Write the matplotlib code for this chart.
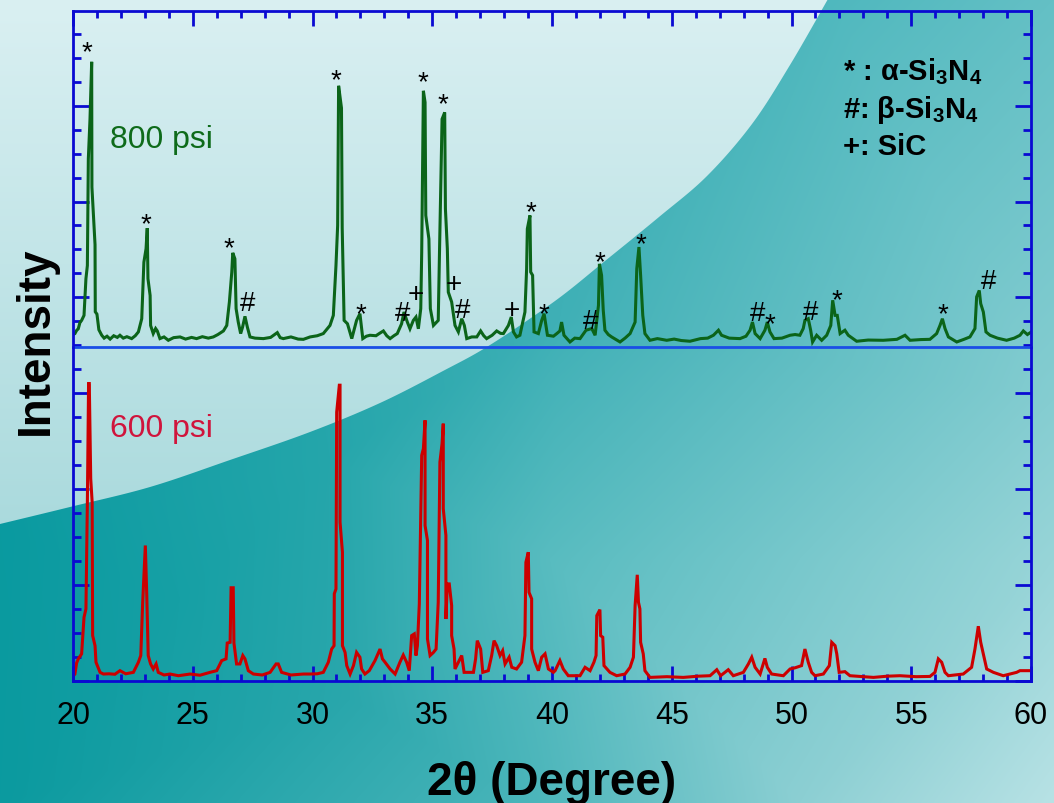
import numpy as np
import matplotlib
matplotlib.use("Agg")
import matplotlib.pyplot as plt
import matplotlib.tri as mtri
from matplotlib.colors import to_rgb
from matplotlib.patches import Polygon
from matplotlib.ticker import MultipleLocator, FixedLocator

plt.rcParams.update({
    "font.family": ["Liberation Sans", "DejaVu Sans"],
    "mathtext.fontset": "custom",
    "mathtext.rm": "Liberation Sans:bold",
    "mathtext.it": "Liberation Sans:bold",
    "mathtext.bf": "Liberation Sans:bold",
})

BLUE, SEP_BLUE = "#0a0ad2", "#1a4ee6"
GREEN, RED = "#0b6419", "#cc0000"
GREEN_TXT, RED_TXT = "#0e6b1a", "#d0143c"

# ---- XRD pattern, 800 psi ----
tt_800 = [20.00, 20.08, 20.15, 20.22, 20.29, 20.36, 20.46, 20.54, 20.60, 20.64, 20.71, 20.78,
          20.79, 20.92, 20.93, 21.00, 21.08, 21.20, 21.30, 21.42, 21.55, 21.70, 21.85, 21.96,
          22.10, 22.25, 22.45, 22.60, 22.73, 22.87, 22.96, 23.05, 23.10, 23.13, 23.22, 23.24,
          23.35, 23.45, 23.52, 23.63, 23.80, 23.98, 24.20, 24.47, 24.70, 24.95, 25.16, 25.40,
          25.65, 25.86, 26.05, 26.28, 26.42, 26.53, 26.63, 26.67, 26.76, 26.81, 26.90, 27.00,
          27.08, 27.18, 27.28, 27.39, 27.60, 27.95, 28.25, 28.53, 28.65, 28.78, 29.10, 29.40,
          29.62, 29.90, 30.20, 30.45, 30.73, 30.87, 30.98, 31.05, 31.09, 31.21, 31.24, 31.32,
          31.46, 31.64, 31.84, 31.98, 32.10, 32.25, 32.40, 32.65, 32.80, 32.96, 33.10, 33.24,
          33.40, 33.54, 33.72, 33.82, 33.96, 34.07, 34.21, 34.32, 34.42, 34.52, 34.56, 34.63,
          34.70, 34.73, 34.86, 34.92, 35.05, 35.25, 35.30, 35.41, 35.52, 35.55, 35.63, 35.67,
          35.81, 35.95, 36.09, 36.23, 36.34, 36.44, 36.65, 36.86, 37.02, 37.15, 37.27, 37.50,
          37.69, 37.85, 37.97, 38.18, 38.30, 38.39, 38.52, 38.66, 38.87, 38.94, 38.97, 39.08,
          39.11, 39.19, 39.25, 39.43, 39.57, 39.67, 39.81, 40.06, 40.20, 40.33, 40.40, 40.50,
          40.75, 40.95, 41.17, 41.42, 41.66, 41.80, 41.94, 41.98, 42.07, 42.14, 42.21, 42.35,
          42.49, 42.84, 43.05, 43.26, 43.47, 43.54, 43.63, 43.70, 43.79, 43.88, 44.09, 44.40,
          44.79, 45.10, 45.40, 45.76, 46.20, 46.50, 46.74, 46.95, 47.08, 47.40, 47.85, 48.10,
          48.27, 48.37, 48.48, 48.69, 48.89, 48.99, 49.10, 49.27, 49.60, 49.94, 50.15, 50.35,
          50.49, 50.56, 50.70, 50.80, 50.88, 51.05, 51.26, 51.47, 51.64, 51.72, 51.82, 51.91,
          52.03, 52.23, 52.37, 52.72, 53.20, 53.83, 54.40, 54.74, 54.95, 55.40, 55.78, 56.06,
          56.20, 56.30, 56.41, 56.55, 56.90, 57.20, 57.45, 57.66, 57.73, 57.84, 57.90, 58.01,
          58.12, 58.29, 58.60, 58.98, 59.30, 59.54, 59.68, 59.85, 60.00]
i_800 = [0.45, 0.49, 0.62, 0.69, 0.95, 1.04, 1.25, 2.78, 3.33, 7.78, 9.44, 11.83,
         6.60, 4.20, 1.40, 1.30, 0.65, 0.42, 0.30, 0.38, 0.26, 0.40, 0.33, 0.42,
         0.30, 0.36, 0.28, 0.40, 0.56, 1.11, 3.47, 4.03, 4.89, 2.78, 2.08, 0.83,
         0.49, 0.70, 0.60, 0.28, 0.35, 0.21, 0.32, 0.35, 0.26, 0.33, 0.28, 0.36,
         0.30, 0.35, 0.45, 0.60, 0.83, 1.81, 3.06, 3.86, 3.61, 1.53, 0.97, 0.49,
         0.76, 1.21, 0.76, 0.35, 0.30, 0.28, 0.33, 0.53, 0.32, 0.28, 0.35, 0.26,
         0.25, 0.35, 0.40, 0.49, 0.83, 1.25, 3.33, 5.00, 10.83, 9.90, 4.90, 1.04,
         0.90, 0.28, 1.04, 1.32, 0.28, 0.38, 0.42, 0.40, 0.50, 0.60, 0.40, 0.28,
         0.40, 0.49, 0.90, 1.39, 0.97, 0.69, 1.04, 1.18, 0.69, 1.53, 3.89, 10.62,
         10.14, 5.42, 4.44, 1.53, 0.83, 1.04, 3.75, 9.44, 9.72, 5.69, 4.03, 2.22,
         1.81, 0.83, 0.56, 1.11, 0.83, 0.28, 0.35, 0.35, 0.60, 0.40, 0.28, 0.42,
         0.60, 0.50, 0.49, 0.83, 1.18, 0.56, 0.35, 0.42, 1.39, 3.19, 4.86, 5.42,
         3.06, 2.92, 0.56, 0.49, 1.04, 1.32, 0.42, 0.38, 0.49, 0.60, 0.97, 0.42,
         0.14, 0.30, 0.28, 0.63, 0.70, 0.42, 1.67, 3.40, 2.92, 1.46, 0.63, 0.45,
         0.35, 0.14, 0.30, 0.49, 0.97, 3.20, 4.10, 2.92, 1.25, 0.49, 0.21, 0.28,
         0.21, 0.26, 0.20, 0.17, 0.28, 0.30, 0.42, 0.63, 0.42, 0.30, 0.28, 0.38,
         0.63, 0.97, 0.49, 0.28, 0.63, 0.97, 0.56, 0.28, 0.30, 0.42, 0.45, 0.42,
         0.70, 1.04, 1.11, 0.63, 0.14, 0.42, 0.21, 0.42, 0.83, 1.88, 1.25, 1.25,
         0.49, 0.63, 0.42, 0.17, 0.22, 0.21, 0.25, 0.42, 0.21, 0.24, 0.25, 0.49,
         0.83, 1.11, 0.70, 0.35, 0.14, 0.25, 0.35, 0.70, 2.02, 2.29, 1.74, 1.39,
         0.56, 0.42, 0.30, 0.21, 0.30, 0.42, 0.60, 0.45, 0.55]

# ---- XRD pattern, 600 psi ----
tt_600 = [20.00, 20.08, 20.15, 20.22, 20.36, 20.46, 20.54, 20.60, 20.65, 20.68, 20.74, 20.80,
          20.82, 20.92, 20.96, 21.13, 21.27, 21.50, 21.75, 21.96, 22.20, 22.52, 22.73, 22.83,
          22.91, 23.02, 23.08, 23.14, 23.24, 23.35, 23.47, 23.56, 23.80, 24.05, 24.40, 24.89,
          25.30, 25.72, 26.00, 26.21, 26.39, 26.44, 26.56, 26.60, 26.69, 26.72, 26.83, 26.97,
          27.09, 27.18, 27.32, 27.53, 27.90, 28.23, 28.48, 28.57, 28.71, 29.10, 29.62, 29.90,
          30.20, 30.45, 30.66, 30.80, 30.90, 30.91, 30.98, 31.01, 31.12, 31.15, 31.15, 31.25,
          31.25, 31.36, 31.43, 31.57, 31.71, 31.84, 31.98, 32.05, 32.19, 32.37, 32.61, 32.82,
          32.92, 33.03, 33.24, 33.45, 33.65, 33.79, 33.93, 34.04, 34.14, 34.25, 34.32, 34.38,
          34.46, 34.56, 34.63, 34.70, 34.70, 34.80, 34.80, 34.91, 35.05, 35.16, 35.25, 35.32,
          35.41, 35.46, 35.46, 35.57, 35.57, 35.63, 35.71, 35.81, 35.81, 35.91, 35.95, 36.09,
          36.23, 36.33, 36.72, 36.81, 36.88, 37.02, 37.11, 37.34, 37.48, 37.58, 37.69, 37.83,
          37.94, 38.04, 38.21, 38.32, 38.52, 38.73, 38.87, 38.91, 39.01, 39.04, 39.15, 39.15,
          39.29, 39.43, 39.57, 39.71, 39.85, 40.06, 40.13, 40.33, 40.47, 40.68, 41.17, 41.38,
          41.59, 41.75, 41.84, 41.87, 42.00, 42.03, 42.12, 42.17, 42.42, 42.70, 43.05, 43.26,
          43.40, 43.47, 43.56, 43.61, 43.67, 43.70, 43.81, 43.88, 44.09, 44.80, 45.48, 46.10,
          46.60, 46.88, 47.04, 47.36, 47.57, 47.99, 48.20, 48.34, 48.48, 48.69, 48.89, 48.99,
          49.17, 49.66, 49.94, 50.15, 50.42, 50.56, 50.70, 50.84, 50.98, 51.33, 51.58, 51.68,
          51.82, 51.89, 51.99, 52.23, 52.44, 53.42, 54.00, 54.53, 55.20, 55.78, 55.99, 56.13,
          56.27, 56.41, 56.55, 57.17, 57.52, 57.66, 57.80, 57.90, 58.01, 58.15, 58.43, 58.84,
          59.40, 59.54, 59.96]
i_600 = [0.20, 0.29, 0.75, 0.92, 1.13, 2.65, 3.00, 7.44, 12.38, 12.38, 8.42, 7.44,
         1.89, 1.47, 0.78, 0.36, 0.29, 0.30, 0.28, 0.43, 0.30, 0.36, 0.78, 1.06,
         3.28, 5.64, 3.56, 1.06, 0.71, 0.50, 0.71, 0.36, 0.25, 0.29, 0.22, 0.29,
         0.24, 0.36, 0.43, 0.85, 0.92, 1.58, 1.61, 3.88, 3.88, 1.58, 0.71, 0.71,
         1.06, 0.92, 0.43, 0.29, 0.25, 0.36, 0.71, 0.71, 0.36, 0.25, 0.29, 0.29,
         0.30, 0.36, 0.78, 1.33, 1.47, 3.63, 3.83, 11.19, 12.31, 12.31, 6.61, 5.36,
         1.47, 1.19, 0.64, 0.29, 0.64, 1.19, 0.99, 0.50, 0.29, 0.43, 0.85, 1.33,
         0.92, 0.78, 0.50, 0.29, 0.78, 1.08, 0.78, 0.43, 1.89, 1.96, 1.06, 1.47,
         3.21, 9.39, 9.67, 10.85, 6.47, 5.85, 1.75, 1.06, 1.19, 1.33, 3.28, 9.11,
         9.88, 10.71, 7.17, 6.06, 2.58, 4.04, 4.04, 3.14, 1.89, 1.33, 0.50, 0.78,
         1.06, 0.36, 0.36, 0.92, 1.68, 1.33, 0.36, 0.43, 1.06, 1.68, 1.47, 1.06,
         1.26, 0.71, 0.99, 0.57, 0.50, 0.78, 1.89, 4.94, 5.36, 3.69, 3.42, 1.33,
         0.78, 0.43, 0.99, 1.13, 0.50, 0.36, 0.43, 0.85, 0.50, 0.22, 0.22, 0.57,
         0.43, 0.78, 1.06, 2.72, 2.97, 1.89, 1.82, 0.64, 0.36, 0.22, 0.29, 0.57,
         0.99, 3.14, 4.42, 3.28, 3.00, 1.61, 1.13, 0.43, 0.15, 0.18, 0.15, 0.20,
         0.22, 0.47, 0.22, 0.47, 0.22, 0.36, 0.71, 0.99, 0.57, 0.29, 0.94, 0.57,
         0.29, 0.22, 0.50, 0.55, 0.64, 1.33, 0.78, 0.36, 0.22, 0.29, 0.64, 1.61,
         1.47, 1.13, 0.36, 0.39, 0.22, 0.15, 0.20, 0.22, 0.18, 0.19, 0.36, 0.92,
         0.78, 0.36, 0.22, 0.29, 0.57, 1.33, 2.28, 1.61, 1.13, 0.50, 0.36, 0.22,
         0.36, 0.43, 0.43]

# phase marks above the 800 psi peaks (text baseline positions)
mark_tt = [20.58, 23.05, 26.51, 27.28, 30.98, 32.02, 33.77, 34.30, 34.62, 35.44, 35.91,
           36.26, 38.34, 39.11, 39.68, 41.59, 42.00, 43.72, 48.57, 49.10, 50.79, 51.89,
           56.34, 58.24]
mark_i = [11.92, 4.75, 3.75, 1.48, 10.77, 1.02, 1.05, 1.83, 10.70, 9.77, 2.27,
          1.20, 1.17, 5.25, 0.99, 0.74, 3.17, 3.93, 1.06, 0.60, 1.10, 1.57,
          0.99, 2.41]
mark_sym = ["*", "*", "*", "#", "*", "*", "#", "+", "*", "*", "+",
            "#", "+", "*", "*", "#", "*", "*", "#", "*", "#", "*",
            "*", "#"]

legend_lines = ["* : α-Si$_3$N$_4$", "#: β-Si$_3$N$_4$", "+: SiC"]


def catmull_rom(pts, n=24):
    # smooth decorative edge through the given control points
    p = np.asarray(pts, float)
    p = np.vstack([p[0], p, p[-1]])
    out = []
    for i in range(1, len(p) - 2):
        p0, p1, p2, p3 = p[i - 1], p[i], p[i + 1], p[i + 2]
        for t in np.linspace(0, 1, n, endpoint=False):
            out.append(0.5 * ((2 * p1) + (-p0 + p2) * t
                              + (2 * p0 - 5 * p1 + 4 * p2 - p3) * t ** 2
                              + (-p0 + 3 * p1 - 3 * p2 + p3) * t ** 3))
    out.append(p[-2])
    return [tuple(q) for q in out]


# ---------------- figure & background ----------------
W, H = 1054, 804
fig = plt.figure(figsize=(W / 100, H / 100), dpi=100)
bg = fig.add_axes([0, 0, 1, 1], zorder=0)
bg.set_xlim(0, W); bg.set_ylim(H, 0); bg.set_axis_off()

gx, gy = np.meshgrid(np.arange(W) + 0.5, np.arange(H) + 0.5)
t = np.clip(gy / 530.0, 0, 1)[..., None]
light = np.array(to_rgb("#daf0f2")) * (1 - t) + np.array(to_rgb("#aadadd")) * t
bg.imshow(light, extent=(0, W, H, 0), aspect="auto", zorder=0)

sx = [0, 0, 0, 180, 330, 350, 530, 560, 550, 830, 1054, 1054, 800, 1054, 1054, 800]
sy = [0, 530, 804, 600, 460, 700, 804, 320, 560, 0, 0, 400, 560, 560, 804, 804]
sc = ["#0a9aa0", "#0a9aa0", "#0b9a9f", "#16a0a5", "#25a6ab", "#2aa7ac", "#4ab5ba", "#3fb0b6",
      "#58bcc0", "#4fb8be", "#64c0c5", "#85cdd1", "#78c8cc", "#98d5d8", "#b8e2e5", "#8ccfd3"]
rgb = np.array([to_rgb(c) for c in sc])
tri = mtri.Triangulation(sx, sy)
dark = np.dstack([mtri.LinearTriInterpolator(tri, rgb[:, k])(gx, gy).filled(0.5) for k in range(3)])
dark = np.clip(dark, 0, 1)
im = bg.imshow(dark, extent=(0, W, H, 0), aspect="auto", zorder=1)
edge_ctrl = [(0, 525), (70, 508), (150, 488), (230, 461), (310, 433), (380, 404), (443, 372),
             (490, 346), (555, 302), (605, 262), (659, 218), (707, 177), (752, 125), (790, 66),
             (828, 0)]
edge = catmull_rom(edge_ctrl) + [(W, 0), (W, H), (0, H)]
im.set_clip_path(Polygon(edge, closed=True, transform=bg.transData))

# ---------------- data panels ----------------
L, Wd = 73 / W, (1031 - 73) / W
ax_top = fig.add_axes([L, 1 - 348 / H, Wd, 336 / H], zorder=2)
ax_bot = fig.add_axes([L, 1 - 682 / H, Wd, 334 / H], zorder=2)

ax_top.plot(tt_800, i_800, color=GREEN, lw=2.2, solid_joinstyle="miter")
ax_bot.plot(tt_600, i_600, color=RED, lw=2.2, solid_joinstyle="miter")

for ax in (ax_top, ax_bot):
    ax.set_facecolor("none")
    ax.set_xlim(20, 60)
    for s in ax.spines.values():
        s.set_color(BLUE); s.set_linewidth(2.0)
    ax.xaxis.set_major_locator(MultipleLocator(5))
    ax.xaxis.set_minor_locator(MultipleLocator(1))
    ax.yaxis.set_minor_locator(MultipleLocator(1))
    ax.tick_params(which="both", direction="in", color=BLUE, width=2.0,
                   left=True, right=True, labelleft=False)
    ax.tick_params(axis="x", which="major", length=11)
    ax.tick_params(axis="x", which="minor", length=5)
    ax.tick_params(axis="y", which="major", length=11.5)
    ax.tick_params(axis="y", which="minor", length=5.8)

ax_top.set_ylim(-0.07, 13.95)
ax_top.yaxis.set_major_locator(FixedLocator([2, 6, 10]))
ax_top.tick_params(axis="x", which="both", top=True, bottom=False, labelbottom=False)
ax_top.spines["bottom"].set_color(SEP_BLUE)

ax_bot.set_ylim(0, 13.9)
ax_bot.yaxis.set_major_locator(MultipleLocator(4))
ax_bot.spines["top"].set_visible(False)
ax_bot.tick_params(axis="x", which="both", top=False, bottom=True, labelbottom=True,
                   labelsize=22, pad=14, labelcolor="black")

for x, y, s in zip(mark_tt, mark_i, mark_sym):
    ax_top.text(x, y, s, ha="center", va="baseline", fontsize=20, color="black")

ax_top.text(0.039, 0.595, "800 psi", transform=ax_top.transAxes, fontsize=23,
            color=GREEN_TXT, va="baseline")
ax_bot.text(0.039, 0.734, "600 psi", transform=ax_bot.transAxes, fontsize=23,
            color=RED_TXT, va="baseline")

for k, line in enumerate(legend_lines):
    ax_top.text(0.804, [0.798, 0.685, 0.574][k], line, transform=ax_top.transAxes,
                fontsize=21, fontweight="bold", color="black", va="baseline")

fig.text(552 / W, 1 - 795 / H, "2θ (Degree)", ha="center", va="baseline",
         fontsize=33, fontweight="bold")
fig.text(48 / W, 1 - 341 / H, "Intensity", ha="center", va="baseline", rotation=90,
         rotation_mode="anchor", fontsize=33, fontweight="bold")

fig.savefig("out.png", dpi=100)
